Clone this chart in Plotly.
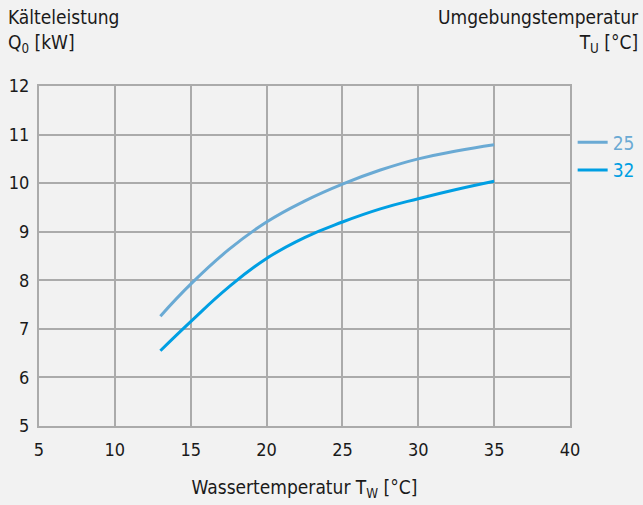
import plotly.graph_objects as go

# Wassertemperatur T_W [°C]
water_temp = [13, 15, 17.5, 20, 22.5, 25, 27.5, 30, 32.5, 35]
# Kälteleistung Q0 [kW] bei Umgebungstemperatur 25 °C und 32 °C
q0_tu25 = [7.26, 7.92, 8.63, 9.20, 9.63, 9.98, 10.27, 10.50, 10.66, 10.79]
q0_tu32 = [6.55, 7.15, 7.86, 8.45, 8.88, 9.20, 9.47, 9.68, 9.87, 10.04]

x_ticks = [5, 10, 15, 20, 25, 30, 35, 40]
y_ticks = [5, 6, 7, 8, 9, 10, 11, 12]

light = '#6aaad4'
dark = '#009fe3'
font = 'DejaVu Sans Condensed, sans-serif'

fig = go.Figure()

fig.add_trace(go.Scatter(
    x=water_temp, y=q0_tu25, mode='lines',
    line=dict(color=light, width=3, shape='spline', smoothing=1.3),
    name='<span style="color:%s">25</span>' % light))

fig.add_trace(go.Scatter(
    x=water_temp, y=q0_tu32, mode='lines',
    line=dict(color=dark, width=3, shape='spline', smoothing=1.3),
    name='<span style="color:%s">32</span>' % dark))

fig.update_layout(
    width=643, height=505,
    margin=dict(l=39, r=73, t=86, b=79, autoexpand=False),
    paper_bgcolor='#f2f2f2', plot_bgcolor='#f2f2f2',
    font=dict(family=font, size=18, color='#1a1a1a'),
    legend=dict(x=1.005, xanchor='left', y=0.89, yanchor='top',
                bgcolor='rgba(0,0,0,0)', font=dict(size=19),
                itemwidth=30, tracegroupgap=0),
    annotations=[
        dict(text='Kälteleistung<br>Q<sub>0</sub> [kW]', xref='paper', yref='paper',
             x=-33 / 531, y=1 + 82 / 340, xanchor='left', yanchor='top',
             align='left', showarrow=False, font=dict(size=19)),
        dict(text='Umgebungstemperatur<br>T<sub>U</sub> [°C]', xref='paper', yref='paper',
             x=1 + 71 / 531, y=1 + 82 / 340, xanchor='right', yanchor='top',
             align='right', showarrow=False, font=dict(size=19)),
    ],
)

fig.update_xaxes(
    range=[5, 40], tickvals=x_ticks, showgrid=True, gridcolor='#ababab', gridwidth=1.5,
    showline=True, linecolor='#ababab', linewidth=2, mirror=True, zeroline=False,
    ticks='', ticklabelstandoff=6,
    title=dict(text='Wassertemperatur T<sub>W</sub> [°C]', font=dict(size=19), standoff=22))

fig.update_yaxes(
    range=[5, 12], tickvals=y_ticks, showgrid=True, gridcolor='#ababab', gridwidth=1.5,
    showline=True, linecolor='#ababab', linewidth=2, mirror=True, zeroline=False,
    ticks='', ticklabelstandoff=4)

fig.write_html("out.html", config={'displayModeBar': False},
               post_script="document.body.style.margin='0';")
